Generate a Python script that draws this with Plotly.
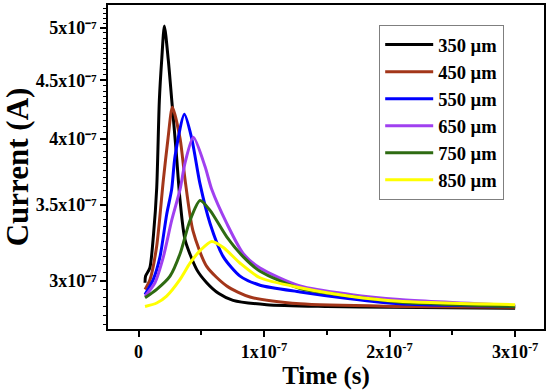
import plotly.graph_objects as go

SCALE = 1e-7  # values below are in units of 1e-7 (s or A)

labels = ["350 µm", "450 µm", "550 µm", "650 µm", "750 µm", "850 µm"]
colors = ["#000000", "#A3361A", "#0000FF", "#A040F0", "#2E6B12", "#FFFF00"]

t_350 = [0.052, 0.056, 0.09, 0.12, 0.145, 0.166, 0.185, 0.206, 0.237, 0.265, 0.299, 0.331, 0.371, 0.464, 0.543, 0.64, 0.753, 1.02, 1.5, 2.0, 3.0]
i_350 = [2.99, 3.03, 3.08, 3.30, 3.62, 4.32, 4.69, 5.02, 4.69, 4.32, 3.91, 3.53, 3.26, 3.07, 2.99, 2.925, 2.885, 2.86, 2.85, 2.845, 2.84]

t_450 = [0.052, 0.092, 0.145, 0.198, 0.235, 0.27, 0.331, 0.371, 0.434, 0.543, 0.703, 0.888, 1.287, 2.08, 3.0]
i_450 = [2.95, 3.01, 3.22, 3.68, 4.00, 4.26, 4.00, 3.68, 3.32, 3.09, 2.97, 2.905, 2.865, 2.85, 2.845]

t_550 = [0.052, 0.118, 0.171, 0.224, 0.264, 0.291, 0.365, 0.424, 0.49, 0.57, 0.676, 0.809, 0.968, 1.287, 1.685, 2.08, 3.0]
i_550 = [2.92, 3.01, 3.15, 3.43, 3.61, 3.86, 4.20, 4.00, 3.65, 3.37, 3.15, 3.03, 2.975, 2.935, 2.895, 2.865, 2.85]

t_650 = [0.052, 0.131, 0.198, 0.264, 0.331, 0.371, 0.437, 0.53, 0.583, 0.703, 0.835, 0.968, 1.287, 1.685, 2.08, 3.0]
i_650 = [2.91, 2.99, 3.15, 3.39, 3.61, 3.81, 4.01, 3.78, 3.61, 3.37, 3.17, 3.08, 2.97, 2.92, 2.89, 2.855]

t_750 = [0.052, 0.145, 0.251, 0.331, 0.41, 0.49, 0.57, 0.703, 0.835, 0.968, 1.287, 1.685, 2.08, 3.0]
i_750 = [2.90, 2.95, 3.03, 3.17, 3.39, 3.53, 3.46, 3.28, 3.15, 3.06, 2.955, 2.91, 2.875, 2.85]

t_850 = [0.052, 0.145, 0.224, 0.331, 0.41, 0.49, 0.583, 0.676, 0.809, 0.968, 1.287, 1.685, 2.08, 3.0]
i_850 = [2.85, 2.87, 2.91, 3.01, 3.11, 3.19, 3.25, 3.21, 3.11, 3.02, 2.96, 2.91, 2.88, 2.86]

x_tickvals = [0, 1, 2, 3]
x_ticktext = ["0", "1x10<sup>-7</sup>", "2x10<sup>-7</sup>", "3x10<sup>-7</sup>"]
x_minor = [0.5, 1.5, 2.5]
y_tickvals = [3.0, 3.5, 4.0, 4.5, 5.0]
y_ticktext = ["3x10⁻⁷", "3.5x10⁻⁷", "4x10⁻⁷", "4.5x10⁻⁷", "5x10⁻⁷"]
y_minor = [2.75 + 0.05 * k for k in range(50)]

series = [(t_350, i_350), (t_450, i_450), (t_550, i_550), (t_650, i_650), (t_750, i_750), (t_850, i_850)]

FONT = "Times New Roman, Liberation Serif, serif"

fig = go.Figure()
for k, ((tt, ii), lab, col) in enumerate(zip(series, labels, colors)):
    fig.add_trace(go.Scatter(
        x=[v * SCALE for v in tt], y=[v * SCALE for v in ii],
        mode="lines", name=lab, legendgroup=f"g{k}",
        line=dict(color=col, width=3, shape="spline", smoothing=0.7),
    ))

fig.update_layout(
    width=550, height=392,
    margin=dict(l=108, r=6, t=5, b=63),
    paper_bgcolor="white", plot_bgcolor="white",
    font=dict(family=FONT, color="black", size=18, weight="bold"),
    legend=dict(
        x=0.622, y=0.938, xanchor="left", yanchor="top",
        bgcolor="white", bordercolor="#7f7f7f", borderwidth=1,
        font=dict(family=FONT, size=18.5, weight="bold"),
        tracegroupgap=0, traceorder="grouped", itemwidth=48,
    ),
    showlegend=True,
)

fig.update_xaxes(
    automargin=False,
    range=[-0.243 * SCALE, 3.23 * SCALE],
    tickmode="array", tickvals=[v * SCALE for v in x_tickvals], ticktext=x_ticktext,
    ticks="outside", ticklen=6, tickwidth=1.5, tickcolor="black",
    showline=True, linecolor="black", linewidth=1.5, mirror=True,
    showgrid=False, zeroline=False,
    tickfont=dict(family=FONT, size=18, weight="bold"),
    minor=dict(tickmode="array", tickvals=[v * SCALE for v in x_minor], ticks="outside", ticklen=4, tickcolor="black", tickwidth=1.5),
    title=dict(text="Time (s)", font=dict(family=FONT, size=25, weight="bold"), standoff=0),
)

fig.update_yaxes(
    automargin=False,
    type="log",
    range=[-6.56491, -6.28087],
    tickmode="array", tickvals=[v * SCALE for v in y_tickvals], ticktext=y_ticktext,
    ticks="outside", ticklen=6, tickwidth=1.5, tickcolor="black",
    ticklabelposition="outside",
    showline=True, linecolor="black", linewidth=1.5, mirror=True,
    showgrid=False, zeroline=False,
    tickfont=dict(family=FONT, size=18, weight="bold"),
    minor=dict(tickmode="array", tickvals=[v * SCALE for v in y_minor], ticks="outside", ticklen=3, tickcolor="black", tickwidth=1.2),
    title=dict(text="Current (A)", font=dict(family=FONT, size=31, weight="bold"), standoff=2),
)

fig.write_html("out.html", config={"displayModeBar": False},
               post_script="document.body.style.margin='0';document.body.style.overflow='hidden';")
